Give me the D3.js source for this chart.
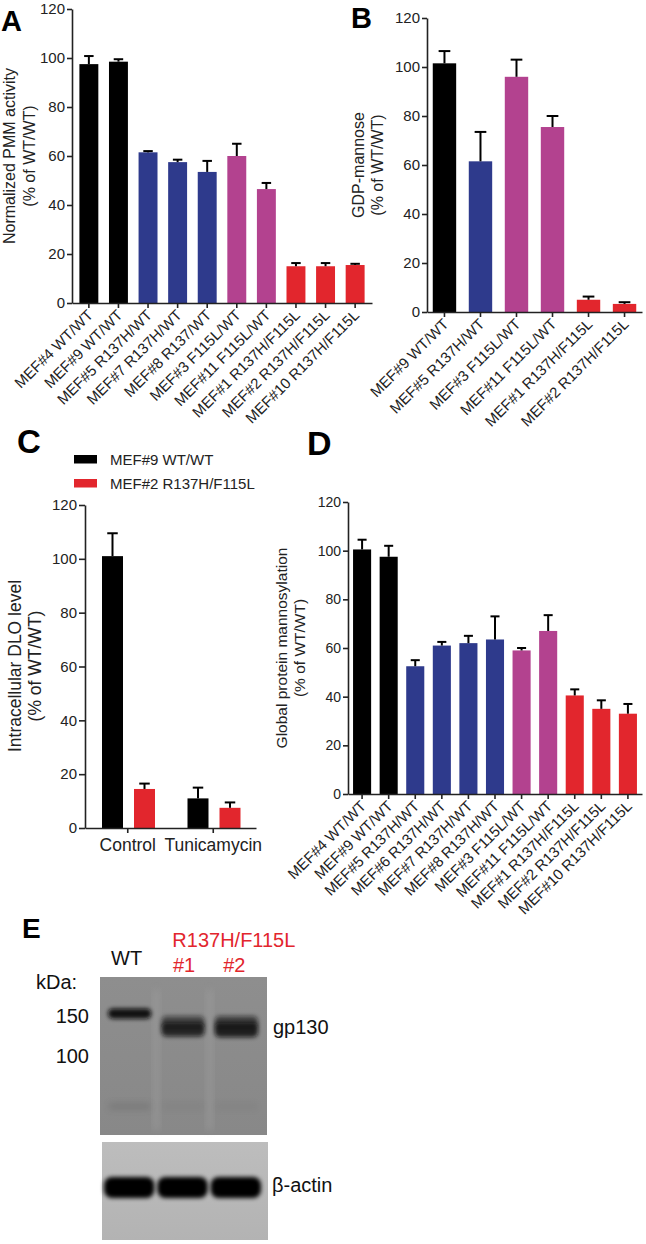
<!DOCTYPE html>
<html>
<head>
<meta charset="utf-8">
<script src="https://cdn.jsdelivr.net/npm/d3@7"></script>
<style>
  body { margin: 0; background: #fff; }
  svg { display: block; font-family: "Liberation Sans", Arial, sans-serif; }
</style>
</head>
<body>
<svg id="fig" width="646" height="1244"></svg>
<script>
// ---- data ----
const labelsA = ["MEF#4 WT/WT", "MEF#9 WT/WT", "MEF#5 R137H/WT", "MEF#7 R137H/WT", "MEF#8 R137/WT",
  "MEF#3 F115L/WT", "MEF#11 F115L/WT", "MEF#1 R137H/F115L", "MEF#2 R137H/F115L", "MEF#10 R137H/F115L"];
const groupsA = ["wt", "wt", "r137h", "r137h", "r137h", "f115l", "f115l", "comp", "comp", "comp"];
const meanA = [97.5, 98.5, 61.5, 57.5, 53.5, 60, 46.5, 15, 15, 15.5];
const errA = [3.3, 1, 0.5, 1, 4.5, 5, 2.5, 1.3, 1.3, 0.5];

const labelsB = ["MEF#9 WT/WT", "MEF#5 R137H/WT", "MEF#3 F115L/WT", "MEF#11 F115L/WT",
  "MEF#1 R137H/F115L", "MEF#2 R137H/F115L"];
const groupsB = ["wt", "r137h", "f115l", "f115l", "comp", "comp"];
const meanB = [101.5, 61.5, 96, 75.5, 5, 3.3];
const errB = [5, 12, 7, 4.5, 1.3, 0.7];

const conditionsC = ["Control", "Tunicamycin"];
const seriesC = ["MEF#9 WT/WT", "MEF#2 R137H/F115L"];
const seriesGroupC = ["wt", "comp"];
const wtC = [101, 11];
const wtErrC = [8.5, 4];
const mutC = [14.5, 7.5];
const mutErrC = [2, 2];

const labelsD = ["MEF#4 WT/WT", "MEF#9 WT/WT", "MEF#5 R137H/WT", "MEF#6 R137H/WT", "MEF#7 R137H/WT",
  "MEF#8 R137H/WT", "MEF#3 F115L/WT", "MEF#11 F115L/WT", "MEF#1 R137H/F115L", "MEF#2 R137H/F115L",
  "MEF#10 R137H/F115L"];
const groupsD = ["wt", "wt", "r137h", "r137h", "r137h", "r137h", "f115l", "f115l", "comp", "comp", "comp"];
const meanD = [100.5, 97.5, 52.5, 61, 62, 63.5, 59, 67, 40.5, 35, 33];
const errD = [4, 4.5, 2.5, 1.5, 3, 9.5, 1, 6.5, 2.5, 3.5, 4];

const yTicks = [0, 20, 40, 60, 80, 100, 120];

// western blot (panel E): bands in kDa per lane
const lanes = ["WT", "#1", "#2"];
const markers = [150, 100];
const gpBands = [
  { lane: "WT", top: 162, bottom: 146, op: 0.97 },
  { lane: "#1", top: 150, bottom: 132, op: 0.55 },
  { lane: "#1", top: 140, bottom: 122, op: 0.8 },
  { lane: "#2", top: 150, bottom: 132, op: 0.6 },
  { lane: "#2", top: 140, bottom: 121, op: 0.85 }
];
const faintBands = [{ lane: "WT", kda: 60, op: 0.2 }, { lane: "#1", kda: 60, op: 0.08 }, { lane: "#2", kda: 60, op: 0.08 }];

const colors = { wt: "#000000", r137h: "#2e3a8c", f115l: "#b3428f", comp: "#e2262d" };
const axisColor = "#222";

const svg = d3.select("#fig");
svg.append("rect").attr("width", 646).attr("height", 1244).attr("fill", "#fff");

function styleAxis(ax, size) {
  ax.attr("font-family", null).attr("font-size", null);
  ax.selectAll("path.domain").attr("stroke", axisColor).attr("stroke-width", 1.6);
  ax.selectAll(".tick line").attr("stroke", axisColor).attr("stroke-width", 1.6);
  ax.selectAll("text").attr("fill", "#222").style("font-size", size + "px");
}

function yLabel(g, lines, xs, cy, size) {
  lines.forEach((t, i) => {
    g.append("text")
      .attr("transform", `translate(${xs[i]},${cy}) rotate(-90)`)
      .attr("text-anchor", "middle")
      .style("font-size", size + "px")
      .attr("fill", "#222")
      .text(t);
  });
}

function letter(t, x, y, size) {
  svg.append("text").attr("x", x).attr("y", y).style("font-size", size + "px")
    .style("font-weight", "bold").attr("fill", "#000").text(t);
}

function barPanel(o) {
  const g = svg.append("g");
  const x = d3.scaleBand().domain(o.labels).range(o.xr).paddingInner(o.pi).paddingOuter(o.po);
  const y = d3.scaleLinear().domain([0, 120]).range(o.yr);
  const data = o.labels.map((l, i) => ({ l, m: o.means[i], e: o.errs[i], c: colors[o.groups[i]] }));
  const bw = x.bandwidth();

  g.selectAll("rect.bar").data(data).join("rect")
    .attr("x", d => x(d.l)).attr("y", d => y(d.m))
    .attr("width", bw).attr("height", d => y(0) - y(d.m))
    .attr("fill", d => d.c);

  // upper error bars only
  const eb = g.append("g").attr("stroke", "#000").attr("stroke-width", 2);
  eb.selectAll("line.v").data(data).join("line")
    .attr("x1", d => x(d.l) + bw / 2).attr("x2", d => x(d.l) + bw / 2)
    .attr("y1", d => y(d.m)).attr("y2", d => y(d.m + d.e));
  eb.selectAll("line.h").data(data).join("line")
    .attr("x1", d => x(d.l) + bw / 2 - bw * 0.25).attr("x2", d => x(d.l) + bw / 2 + bw * 0.25)
    .attr("y1", d => y(d.m + d.e)).attr("y2", d => y(d.m + d.e));

  const ya = g.append("g").attr("transform", `translate(${o.xr[0]},0)`)
    .call(d3.axisLeft(y).tickValues(yTicks).tickSize(5).tickPadding(2).tickSizeOuter(0));
  styleAxis(ya, o.tickFont);

  const xa = g.append("g").attr("transform", `translate(0,${o.yr[0]})`)
    .call(d3.axisBottom(x).tickSize(5).tickSizeOuter(0));
  styleAxis(xa, o.xFont);
  xa.selectAll("text")
    .attr("x", 0).attr("y", 0).attr("dy", 0)
    .attr("text-anchor", "end")
    .attr("transform", "translate(5,13) rotate(-45)");

  yLabel(g, o.ylab, o.ylabX, o.ylabY, o.ylabFont);
}

// ---- A ----
barPanel({
  labels: labelsA, groups: groupsA, means: meanA, errs: errA,
  xr: [72, 372], pi: 0.36, po: 0.25, yr: [303, 9],
  tickFont: 15, xFont: 15,
  ylab: ["Normalized PMM activity", "(% of WT/WT)"], ylabX: [15, 35], ylabY: 156, ylabFont: 16
});
letter("A", 1, 31, 29);

// ---- B ----
barPanel({
  labels: labelsB, groups: groupsB, means: meanB, errs: errB,
  xr: [427, 642], pi: 0.35, po: 0.16, yr: [312, 18],
  tickFont: 15, xFont: 15,
  ylab: ["GDP-mannose", "(% of WT/WT)"], ylabX: [364, 383], ylabY: 165, ylabFont: 16
});
letter("B", 351, 28, 29);

// ---- C ----
(function () {
  const g = svg.append("g");
  const x0 = d3.scaleBand().domain(conditionsC).range([85, 256]);
  const x1 = d3.scaleBand().domain(seriesC).range([17, 70]).paddingInner(0.344);
  const y = d3.scaleLinear().domain([0, 120]).range([828, 505]);
  const vals = [wtC, mutC], errs = [wtErrC, mutErrC];
  const data = [];
  conditionsC.forEach((c, ci) => seriesC.forEach((s, si) => {
    data.push({ c, s, m: vals[si][ci], e: errs[si][ci], col: colors[seriesGroupC[si]] });
  }));
  const bw = x1.bandwidth();
  g.selectAll("rect").data(data).join("rect")
    .attr("x", d => x0(d.c) + x1(d.s)).attr("y", d => y(d.m))
    .attr("width", bw).attr("height", d => y(0) - y(d.m)).attr("fill", d => d.col);
  const eb = g.append("g").attr("stroke", "#000").attr("stroke-width", 2);
  eb.selectAll("line.v").data(data).join("line")
    .attr("x1", d => x0(d.c) + x1(d.s) + bw / 2).attr("x2", d => x0(d.c) + x1(d.s) + bw / 2)
    .attr("y1", d => y(d.m)).attr("y2", d => y(d.m + d.e));
  eb.selectAll("line.h").data(data).join("line")
    .attr("x1", d => x0(d.c) + x1(d.s) + bw * 0.25).attr("x2", d => x0(d.c) + x1(d.s) + bw * 0.75)
    .attr("y1", d => y(d.m + d.e)).attr("y2", d => y(d.m + d.e));

  const ya = g.append("g").attr("transform", "translate(85,0)")
    .call(d3.axisLeft(y).tickValues(yTicks).tickSize(6).tickPadding(2).tickSizeOuter(0));
  styleAxis(ya, 15);
  const xa = g.append("g").attr("transform", "translate(0,828)")
    .call(d3.axisBottom(x0).tickSize(5).tickSizeOuter(0).tickPadding(6));
  styleAxis(xa, 17.5);

  yLabel(g, ["Intracellular DLO level", "(% of WT/WT)"], [21, 41], 666, 17.5);

  const lg = g.append("g");
  seriesC.forEach((s, i) => {
    lg.append("rect").attr("x", 74).attr("y", 455 + i * 24).attr("width", 23).attr("height", 8.5)
      .attr("fill", colors[seriesGroupC[i]]);
    lg.append("text").attr("x", 110).attr("y", 465 + i * 24).style("font-size", "15px")
      .attr("fill", "#222").text(s);
  });
})();
letter("C", 17, 453, 33);

// ---- D ----
barPanel({
  labels: labelsD, groups: groupsD, means: meanD, errs: errD,
  xr: [348, 642], pi: 0.32, po: 0.19, yr: [794, 502],
  tickFont: 14, xFont: 15,
  ylab: ["Global protein mannosylation", "(% of WT/WT)"], ylabX: [287, 305], ylabY: 648, ylabFont: 15.5
});
letter("D", 307, 455, 34);

// ---- E: western blot ----
(function () {
  const g = svg.append("g");
  const defs = svg.append("defs");
  defs.append("filter").attr("id", "blurBand").attr("x", "-30%").attr("y", "-80%")
    .attr("width", "160%").attr("height", "260%")
    .append("feGaussianBlur").attr("stdDeviation", 2);
  defs.append("filter").attr("id", "blurSoft").attr("x", "-30%").attr("y", "-100%")
    .attr("width", "160%").attr("height", "300%")
    .append("feGaussianBlur").attr("stdDeviation", 3.5);

  const lane = d3.scaleBand().domain(lanes).range([103, 263]).paddingInner(0.15).paddingOuter(0.075);
  const kda = d3.scaleLog().domain([100, 150]).range([1056, 1016]);
  const lw = lane.bandwidth();

  // upper membrane
  const gradU = defs.append("linearGradient").attr("id", "gelU").attr("x1", 0).attr("x2", 0).attr("y1", 0).attr("y2", 1);
  gradU.append("stop").attr("offset", "0%").attr("stop-color", "#8e8e8e");
  gradU.append("stop").attr("offset", "100%").attr("stop-color", "#888888");
  g.append("rect").attr("x", 100).attr("y", 977).attr("width", 167).attr("height", 158).attr("fill", "url(#gelU)");
  lanes.slice(1).forEach(l => {
    g.append("rect").attr("x", lane(l) - 7).attr("y", 990).attr("width", 6).attr("height", 140)
      .attr("fill", "#a2a2a2").attr("opacity", 0.5).attr("filter", "url(#blurSoft)");
  });
  gpBands.forEach(b => {
    g.append("rect").attr("x", lane(b.lane) + 1).attr("y", kda(b.top))
      .attr("width", lw - 2).attr("height", kda(b.bottom) - kda(b.top))
      .attr("rx", 5).attr("fill", "#0d0d0d").attr("opacity", b.op).attr("filter", "url(#blurBand)");
  });
  faintBands.forEach(b => {
    g.append("rect").attr("x", lane(b.lane) + 2).attr("y", kda(b.kda) - 3)
      .attr("width", lw - 4).attr("height", 6)
      .attr("fill", "#333").attr("opacity", b.op).attr("filter", "url(#blurSoft)");
  });

  // lower membrane (beta-actin)
  const gradL = defs.append("linearGradient").attr("id", "gelL").attr("x1", 0).attr("x2", 0).attr("y1", 0).attr("y2", 1);
  gradL.append("stop").attr("offset", "0%").attr("stop-color", "#bdbdbd");
  gradL.append("stop").attr("offset", "100%").attr("stop-color", "#b3b3b3");
  g.append("rect").attr("x", 102).attr("y", 1142).attr("width", 166).attr("height", 98).attr("fill", "url(#gelL)");
  lanes.forEach(l => {
    g.append("rect").attr("x", lane(l) - 3).attr("y", 1177).attr("width", lw + 5).attr("height", 21)
      .attr("rx", 8).attr("fill", "#050505").attr("filter", "url(#blurBand)");
  });

  // labels
  const txt = (t, x, y, anchor, col) => g.append("text").attr("x", x).attr("y", y)
    .attr("text-anchor", anchor).style("font-size", "20px").attr("fill", col || "#111").text(t);
  txt("WT", lane("WT") + lw / 2 - 3, 965, "middle");
  txt("R137H/F115L", lane("#1") + 12, 947, "start", "#e2262d");
  txt("#1", lane("#1") + lw / 2 + 1, 972, "middle", "#e2262d");
  txt("#2", lane("#2") + lw / 2 - 2, 972, "middle", "#e2262d");
  txt("kDa:", 36, 989, "start");
  markers.forEach(m => txt(String(m), 89, kda(m) + 7, "end"));
  txt("gp130", 273, 1034, "start");
  txt("β-actin", 272, 1192, "start");
})();
letter("E", 22, 938, 28);
</script>
</body>
</html>
